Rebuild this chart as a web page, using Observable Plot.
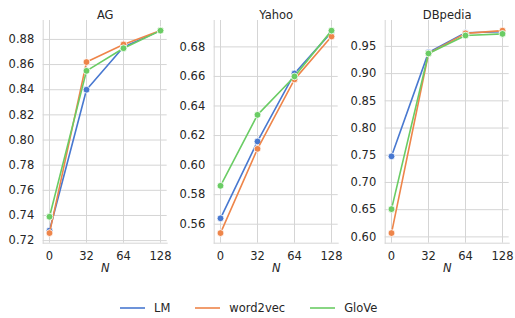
<!DOCTYPE html>
<html>
<head>
<meta charset="utf-8">
<script src="https://cdn.jsdelivr.net/npm/d3@7"></script>
<script src="https://cdn.jsdelivr.net/npm/@observablehq/plot@0.6"></script>
<style>
  html, body { margin: 0; padding: 0; background: #fff; }
  #wrap { position: relative; width: 515px; height: 318px; overflow: hidden; font-family: "DejaVu Sans", sans-serif; color: #262626; }
  #wrap svg text { font-family: "DejaVu Sans", sans-serif !important; }
  .panel { position: absolute; top: 0; }
  #legend { position: absolute; left: 120px; top: 301px; display: flex; align-items: center; font-size: 11.5px; line-height: 14px; }
  #legend .item { display: flex; align-items: center; margin-right: 25px; }
  #legend svg { margin-right: 9px; }
</style>
</head>
<body>
<div id="wrap"></div>
<script>
// ---- data ----
const Ns = [0, 32, 64, 128];
const seriesNames = ["LM", "word2vec", "GloVe"];
const seriesColors = ["#4878d0", "#ee854a", "#6acc64"];
const panelTitles = ["AG", "Yahoo", "DBpedia"];

const agLM    = [0.728, 0.840, 0.874, 0.887];
const agW2V   = [0.726, 0.862, 0.876, 0.887];
const agGloVe = [0.739, 0.855, 0.873, 0.887];

const yahooLM    = [0.564, 0.616, 0.662, 0.690];
const yahooW2V   = [0.554, 0.611, 0.658, 0.687];
const yahooGloVe = [0.586, 0.634, 0.660, 0.691];

const dbLM    = [0.748, 0.939, 0.975, 0.977];
const dbW2V   = [0.607, 0.937, 0.974, 0.979];
const dbGloVe = [0.651, 0.937, 0.970, 0.973];

const agTicks    = [0.72, 0.74, 0.76, 0.78, 0.80, 0.82, 0.84, 0.86, 0.88];
const yahooTicks = [0.56, 0.58, 0.60, 0.62, 0.64, 0.66, 0.68];
const dbTicks    = [0.60, 0.65, 0.70, 0.75, 0.80, 0.85, 0.90, 0.95];

const panels = [
  {title: panelTitles[0], values: [agLM, agW2V, agGloVe], ticks: agTicks},
  {title: panelTitles[1], values: [yahooLM, yahooW2V, yahooGloVe], ticks: yahooTicks},
  {title: panelTitles[2], values: [dbLM, dbW2V, dbGloVe], ticks: dbTicks}
];

const gridColor = "#d5d5d5";
const wrap = document.getElementById("wrap");

panels.forEach((p, i) => {
  const rows = [];
  p.values.forEach((vals, si) => vals.forEach((v, k) => rows.push({N: Ns[k], value: v, series: seriesNames[si]})));
  const ext = d3.extent(rows, d => d.value);
  const pad = (ext[1] - ext[0]) * 0.05;
  const marks = [
    Plot.gridY(p.ticks, {stroke: gridColor, strokeOpacity: 1, strokeWidth: 1}),
    Plot.gridX(Ns, {stroke: gridColor, strokeOpacity: 1, strokeWidth: 1}),
    Plot.frame({anchor: "left", stroke: gridColor, strokeWidth: 1}),
    Plot.frame({anchor: "bottom", stroke: gridColor, strokeWidth: 1}),
    Plot.axisY(p.ticks, {tickSize: 0, tickPadding: 9, tickFormat: d3.format(".2f"), label: null, fontSize: 11.5}),
    Plot.axisX(Ns, {tickSize: 0, tickPadding: 8.5, label: null, fontSize: 11.5}),
    Plot.text([p.title], {frameAnchor: "top", dy: -10, fontSize: 11.5, fill: "#262626"}),
    Plot.text(["N"], {frameAnchor: "bottom", dy: 29, fontSize: 11.5, fontStyle: "italic", fill: "#262626"})
  ];
  seriesNames.forEach(name => {
    const d = rows.filter(r => r.series === name);
    marks.push(Plot.line(d, {x: "N", y: "value", stroke: "series", strokeWidth: 1.6}));
    marks.push(Plot.dot(d, {x: "N", y: "value", fill: "series", r: 3.4, stroke: "white", strokeWidth: 0.8}));
  });
  const chart = Plot.plot({
    width: 171,
    height: 285,
    marginLeft: 42.7,
    marginRight: 4.3,
    marginTop: 20,
    marginBottom: 42.3,
    style: {fontFamily: "DejaVu Sans", fontSize: "11.5px", color: "#262626", background: "transparent", overflow: "visible"},
    x: {type: "point", domain: Ns, padding: 0.15},
    y: {domain: [ext[0] - pad, ext[1] + pad]},
    color: {domain: seriesNames, range: seriesColors},
    marks
  });
  chart.classList.add("panel");
  chart.style.left = (i * 171) + "px";
  wrap.appendChild(chart);
});

// legend
const legend = document.createElement("div");
legend.id = "legend";
seriesNames.forEach((name, i) => {
  const item = document.createElement("div");
  item.className = "item";
  item.innerHTML = `<svg width="25" height="4"><line x1="0" x2="25" y1="2" y2="2" stroke="${seriesColors[i]}" stroke-width="1.6"/></svg><span>${name}</span>`;
  legend.appendChild(item);
});
wrap.appendChild(legend);
</script>
</body>
</html>
